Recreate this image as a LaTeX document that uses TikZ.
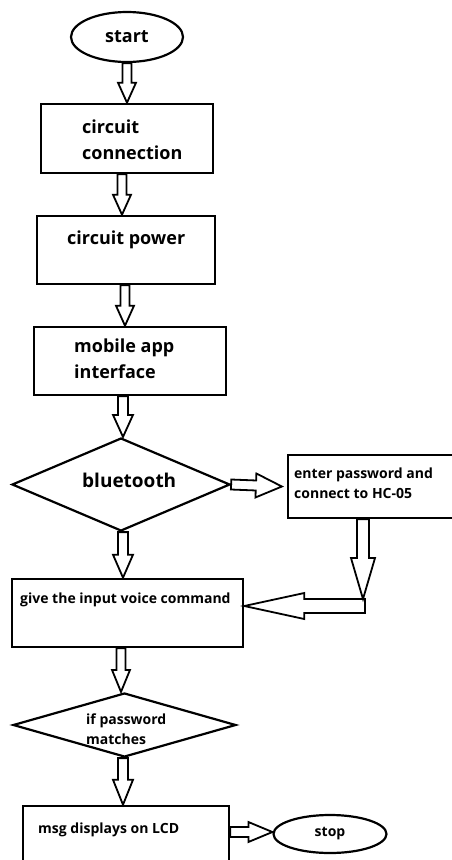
\documentclass[tikz,border=0pt]{standalone}
\usepackage{fontspec}
\setmainfont{Open Sans}
\usetikzlibrary{shapes.geometric,calc}

% hollow block arrows, drawn as outlines between two points
\tikzset{
  arrowshaft/.store in=\shaftw, arrowshaft=4.5pt,
  arrowhead/.store in=\headw, arrowhead=9pt,
  arrowheadlen/.store in=\headl, arrowheadlen=20pt,
  hollow/.style={line width=1.8pt, to path={
    let \p1=(\tikztostart), \p2=(\tikztotarget),
        \n1={atan2(\y2-\y1,\x2-\x1)},
        \n2={veclen(\x2-\x1,\y2-\y1)-\headl} in
    ($(\p1)+(\n1+90:\shaftw)$) --
    ($(\p1)+(\n1:\n2)+(\n1+90:\shaftw)$) --
    ($(\p1)+(\n1:\n2)+(\n1+90:\headw)$) --
    (\p2) --
    ($(\p1)+(\n1:\n2)+(\n1-90:\headw)$) --
    ($(\p1)+(\n1:\n2)+(\n1-90:\shaftw)$) --
    ($(\p1)+(\n1-90:\shaftw)$) -- cycle}}
}

\begin{document}
\begin{tikzpicture}[x=1pt, y=-1pt,
  box/.style={draw, line width=2.6pt, rectangle, inner sep=0},
  term/.style={draw, line width=2.2pt, ellipse, inner sep=0},
  decide/.style={draw, line width=2.2pt, diamond, inner sep=0},
  txtbig/.style={font=\fontsize{18}{26}\selectfont\bfseries, align=left, inner sep=0, anchor=west},
  txtsmall/.style={font=\fontsize{14}{20}\selectfont\bfseries, align=left, inner sep=0, anchor=west}]
\useasboundingbox (0,0) rectangle (452,860);
\clip (0,0) rectangle (452,860);

\node[term, minimum width=112, minimum height=50, font=\fontsize{18}{22}\selectfont\bfseries] (start) at (127,37) {start};

\node[box, minimum width=172, minimum height=69] (conn) at (127,138.5) {};
\node[txtbig] (conntxt) at (82,140) {circuit\\connection};

\node[box, minimum width=178, minimum height=68] (power) at (126,250) {};
\node[txtbig] (powertxt) at (67,240) {circuit power};

\node[box, minimum width=192, minimum height=68] (app) at (130,361) {};
\node[txtbig] (apptxt) at (74,359) {mobile app\\interface};

\node[decide, minimum width=218, minimum height=93] (bt) at (121,484.5) {};
\node[txtbig, font=\fontsize{19}{24}\selectfont\bfseries] (bttxt) at (82,480) {bluetooth};

\node[box, line width=2.2pt, minimum width=180, minimum height=63] (enter) at (378,486.5) {};
\node[txtsmall] (entertxt) at (294,483) {enter password and\\connect to HC-05};

\node[box, minimum width=231, minimum height=68] (voice) at (127.5,613) {};
\node[txtsmall] (voicetxt) at (20,600) {give the input voice command};

\node[decide, minimum width=223, minimum height=64] (match) at (124.5,725) {};
\node[txtsmall] (matchtxt) at (86,729) {if password\\matches};

\node[box, minimum width=206, minimum height=80] (lcd) at (126,846) {};
\node[txtsmall] (lcdtxt) at (38,830) {msg displays on LCD};

\node[term, minimum width=113, minimum height=38, font=\fontsize{14}{18}\selectfont\bfseries] (stop) at (330,834) {stop};

\coordinate (corner) at (363,606);

% main flow
\draw[hollow] (start.south) to (conn.north);
\draw[hollow] ([xshift=-5]conn.south) to ([xshift=-4]power.north);
\draw[hollow] ([xshift=-1]power.south) to ([xshift=-5]app.north);
\draw[hollow, arrowshaft=5pt, arrowhead=10pt, arrowheadlen=22pt] ([xshift=-7]app.south) to ([xshift=2]bt.north);
\draw[hollow, arrowshaft=5pt, arrowhead=10pt, arrowheadlen=23pt] ([xshift=2]bt.south) to ([xshift=-4.5]voice.north);
\draw[hollow, arrowheadlen=22pt] ([xshift=-6.5]voice.south) to ([xshift=-3.5]match.north);
\draw[hollow, arrowshaft=5pt, arrowhead=10pt, arrowheadlen=25pt] ([xshift=-1.5]match.south) to ([xshift=-3]lcd.north);

% side branch
\draw[hollow, arrowshaft=5pt, arrowhead=12pt, arrowheadlen=26pt] (bt.east) to ([xshift=-5]enter.west);
\draw[hollow, arrowshaft=6pt, arrowhead=12pt, arrowheadlen=41pt] (enter.south -| corner) to ([yshift=7]corner);
\draw[hollow, arrowshaft=7pt, arrowhead=13pt, arrowheadlen=60pt] ([xshift=2]corner) to (voice.east |- corner);
\draw[hollow, arrowshaft=5pt, arrowhead=10pt, arrowheadlen=24pt] ([yshift=14]lcd.east) to ([yshift=2]stop.west);
\end{tikzpicture}
\end{document}
